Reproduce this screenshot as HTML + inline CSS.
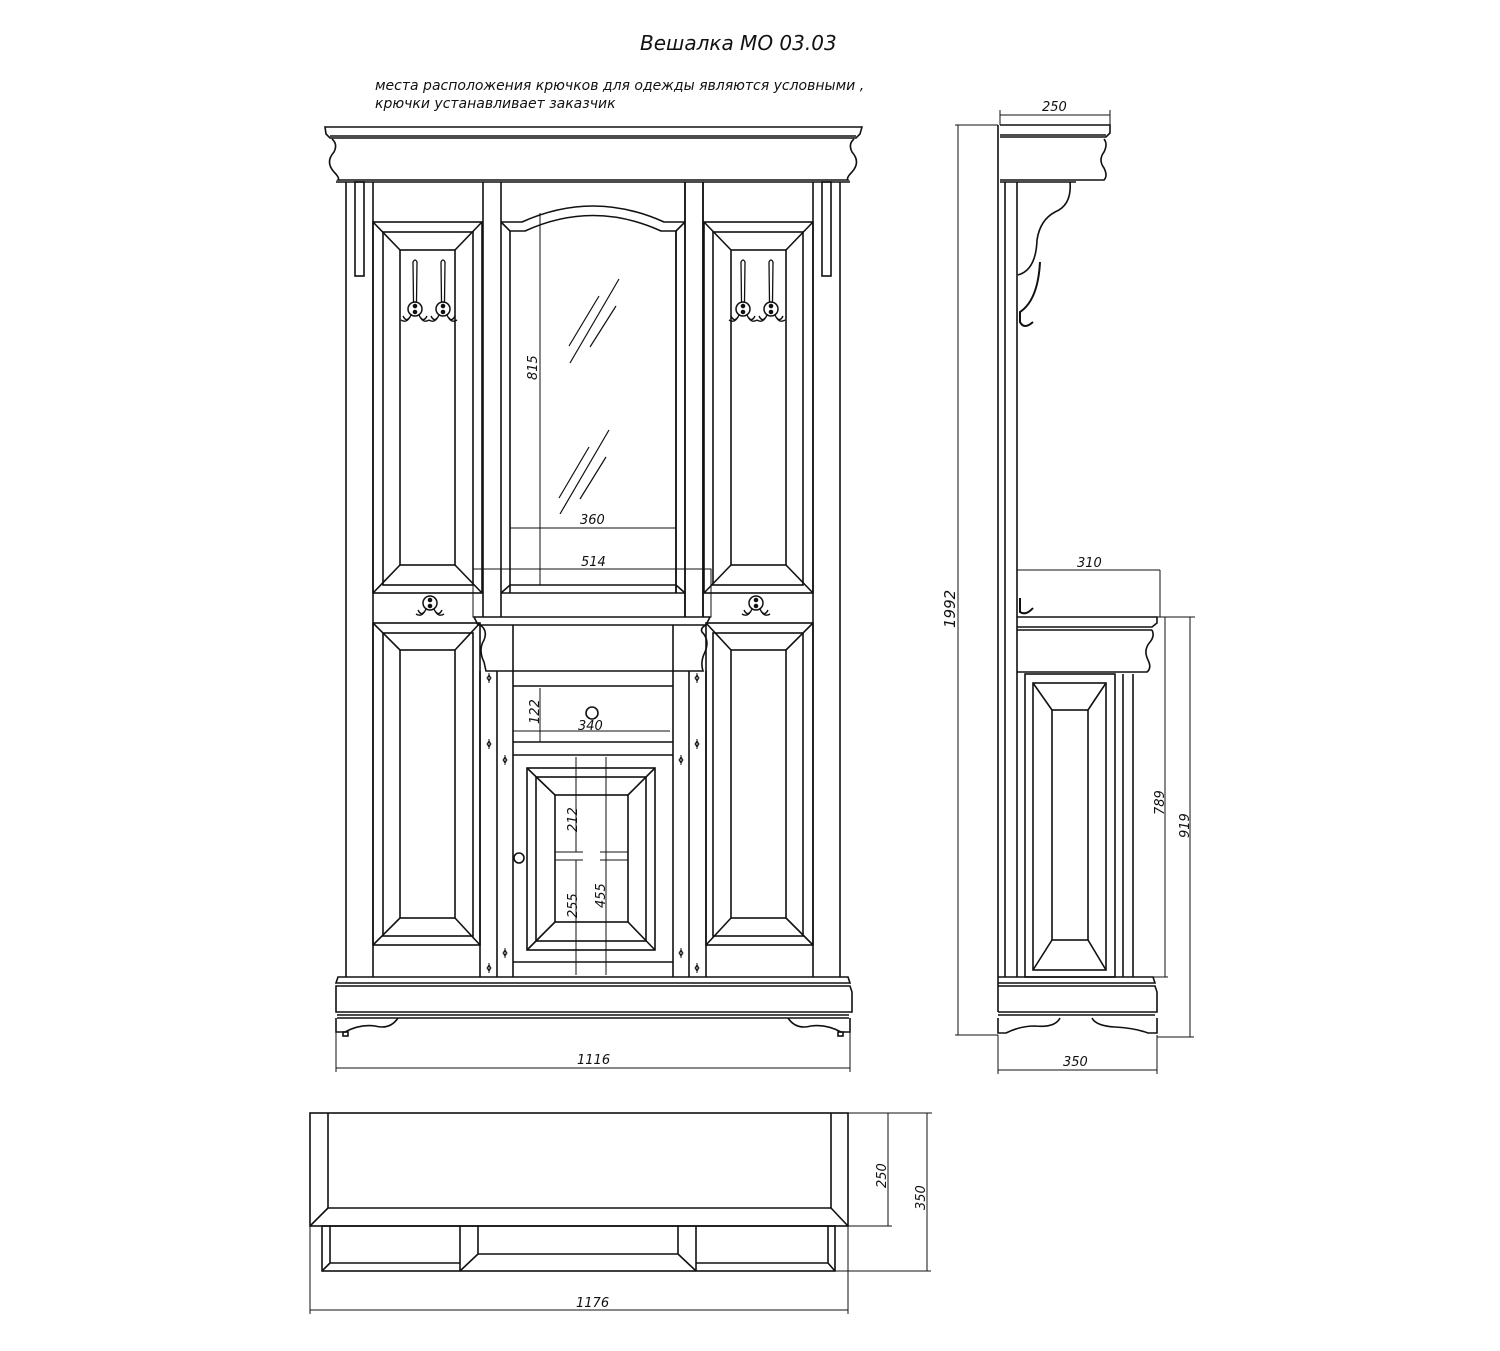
<!DOCTYPE html>
<html><head><meta charset="utf-8"><style>
html,body{margin:0;padding:0;background:#fff;}
svg{display:block;}
text{font-family:"DejaVu Sans","Liberation Sans",sans-serif;font-style:italic;fill:#111;}
</style></head><body>
<svg width="1500" height="1351" viewBox="0 0 1500 1351" xmlns="http://www.w3.org/2000/svg">
<defs>
<g id="hook">
  <path d="M-2,0 Q0,-4 2,0 L1.5,40 L-1.5,40 Z" fill="none" stroke="#111" stroke-width="1.3"/>
  <circle cx="0" cy="47" r="7" fill="none" stroke="#111" stroke-width="1.5"/>
  <circle cx="0" cy="44" r="1.5" fill="#111"/><circle cx="0" cy="50" r="1.5" fill="#111"/>
  <path d="M-4,53 Q-8,62 -14,58 M-12,54 Q-9,60 -6,56 M4,53 Q8,62 14,58 M12,54 Q9,60 6,56" fill="none" stroke="#111" stroke-width="1.4"/>
</g>
<g id="hook2">
  <circle cx="0" cy="0" r="7" fill="none" stroke="#111" stroke-width="1.5"/>
  <circle cx="0" cy="-3" r="1.5" fill="#111"/><circle cx="0" cy="3" r="1.5" fill="#111"/>
  <path d="M-4,6 Q-8,15 -14,11 M-12,7 Q-9,13 -6,9 M4,6 Q8,15 14,11 M12,7 Q9,13 6,9" fill="none" stroke="#111" stroke-width="1.4"/>
</g>
<g id="dia"><path d="M0,-5 L0,5 M-2,0 L0,-3 L2,0 L0,3 Z" fill="none" stroke="#111" stroke-width="1"/></g>
<g id="half">
  <!-- left post with pendant -->
  <line x1="346" y1="182" x2="346" y2="977"/>
  <line x1="373" y1="182" x2="373" y2="977"/>
  <rect x="355" y="182" width="9" height="94"/>
  <!-- left upper panel -->
  <rect x="373" y="222" width="109" height="371"/>
  <rect x="383" y="232" width="90" height="353"/>
  <rect x="400" y="250" width="55" height="315"/>
  <path d="M373,222 L400,250 M482,222 L455,250 M373,593 L400,565 M482,593 L455,565"/>
  <use href="#hook" x="415" y="262"/>
  <use href="#hook" x="443" y="262"/>
  <!-- band -->
  <use href="#hook2" x="430" y="603"/>
  <!-- left lower panel -->
  <rect x="373" y="623" width="107" height="322"/>
  <rect x="383" y="633" width="90" height="303"/>
  <rect x="400" y="650" width="55" height="268"/>
  <path d="M373,623 L400,650 M480,623 L455,650 M373,945 L400,918 M480,945 L455,918"/>
  <!-- post -->
  <line x1="483" y1="182" x2="483" y2="617"/>
  <line x1="501" y1="182" x2="501" y2="617"/>
  <line x1="480" y1="671" x2="480" y2="977"/>
  <line x1="497" y1="671" x2="497" y2="977"/>
  <line x1="513" y1="671" x2="513" y2="977"/>
  <use href="#dia" x="489" y="678"/><use href="#dia" x="489" y="744"/><use href="#dia" x="489" y="968"/>
  <use href="#dia" x="505" y="760"/><use href="#dia" x="505" y="953"/>
  <!-- mirror frame side -->
  <line x1="510" y1="231" x2="510" y2="593"/>
  <!-- foot -->
  <path d="M336,1018 L336,1032 L345,1032 Q360,1024 375,1026 Q390,1030 398,1018"/>
  <rect x="343" y="1032" width="5" height="4"/>
</g>
</defs>

<text x="640" y="50" font-size="20">Вешалка МО  03.03</text>
<text x="375" y="90" font-size="14">места расположения крючков для одежды являются условными ,</text>
<text x="375" y="108" font-size="14">крючки устанавливает заказчик</text>

<g fill="none" stroke="#111" stroke-width="1.6">
<!-- FRONT VIEW -->
<!-- cornice -->
<path d="M325,127 L862,127 L860,134 L856,138 L330,138 L326,134 Z"/>
<line x1="330" y1="136" x2="856" y2="136"/>
<path d="M332,139 Q338,144 334,152 Q325,162 334,172 Q340,178 338,180 L848,180 Q846,178 852,172 Q861,162 852,152 Q848,144 854,139"/>
<line x1="336" y1="182" x2="850" y2="182"/>
<use href="#half"/>
<use href="#half" transform="translate(1186,0) scale(-1,1)"/>
<!-- mirror -->
<path d="M501,222 L522,222 Q593,190 664,222 L685,222"/>
<path d="M510,231 L525,231 Q593,200 661,231 L676,231"/>
<path d="M501,222 L510,231 M685,222 L676,231"/>
<line x1="676" y1="231" x2="676" y2="593"/>
<line x1="510" y1="585" x2="676" y2="585"/>
<line x1="501" y1="593" x2="685" y2="593"/>
<path d="M501,593 L510,585 M685,593 L676,585"/>
<line x1="685" y1="182" x2="685" y2="617"/>
<line x1="703" y1="182" x2="703" y2="617"/>
<g stroke-width="1.2">
<path d="M569,346 L599,296 M570,363 L619,279 M590,347 L616,306"/>
<path d="M559,498 L589,447 M560,514 L609,430 M580,499 L606,457"/>
</g>
<!-- dims in mirror -->
<g stroke-width="1">
<line x1="540" y1="213" x2="540" y2="585"/>
<line x1="510" y1="528" x2="676" y2="528"/>
<rect x="473" y="569" width="238" height="48"/>
</g>
<text x="580" y="524" font-size="13" stroke="none">360</text>
<text x="581" y="566" font-size="13" stroke="none">514</text>
<text x="0" y="0" font-size="13" stroke="none" transform="translate(537,380) rotate(-90)">815</text>
<!-- drawer -->
<path d="M474,617 L710,617 L706,625 L478,625 Z"/>
<path d="M480,625 Q488,630 484,640 Q478,650 484,662 L486,671 L703,671 Q700,662 705,652 Q710,640 702,632 Q700,628 706,625"/>
<line x1="513" y1="625" x2="513" y2="671"/>
<line x1="673" y1="625" x2="673" y2="671"/>
<!-- shelf -->
<line x1="513" y1="686" x2="673" y2="686"/>
<line x1="513" y1="742" x2="673" y2="742"/>
<line x1="513" y1="755" x2="673" y2="755"/>
<circle cx="592" cy="713" r="6"/>
<g stroke-width="1">
<line x1="540" y1="688" x2="540" y2="742"/>
<line x1="513" y1="731" x2="670" y2="731"/>
</g>
<text x="0" y="0" font-size="13" stroke="none" transform="translate(539,724) rotate(-90)">122</text>
<text x="578" y="730" font-size="13" stroke="none">340</text>
<!-- door -->
<line x1="513" y1="962" x2="673" y2="962"/>
<rect x="527" y="768" width="128" height="182"/>
<rect x="536" y="777" width="110" height="164"/>
<rect x="555" y="795" width="73" height="127"/>
<path d="M527,768 L555,795 M655,768 L628,795 M527,950 L555,922 M655,950 L628,922"/>
<circle cx="519" cy="858" r="5"/>
<g stroke-width="1">
<line x1="576" y1="757" x2="576" y2="852"/><line x1="576" y1="860" x2="576" y2="975"/>
<line x1="606" y1="757" x2="606" y2="975"/>
<path d="M555,852 L583,852 M555,860 L583,860 M600,852 L628,852 M600,860 L628,860"/>
</g>
<text x="0" y="0" font-size="13" stroke="none" transform="translate(577,832) rotate(-90)">212</text>
<text x="0" y="0" font-size="13" stroke="none" transform="translate(577,918) rotate(-90)">255</text>
<text x="0" y="0" font-size="13" stroke="none" transform="translate(605,908) rotate(-90)">455</text>
<!-- base -->
<path d="M338,977 L848,977 L850,983 L336,983 Z"/>
<path d="M336,986 L850,986 L852,992 L852,1012 L336,1012 L336,992 Z"/>
<line x1="337" y1="1015" x2="849" y2="1015"/>
<line x1="337" y1="1018" x2="849" y2="1018"/>
<g stroke-width="1">
<line x1="336" y1="1018" x2="336" y2="1072"/><line x1="850" y1="1018" x2="850" y2="1072"/>
<line x1="336" y1="1068" x2="850" y2="1068"/>
</g>
<text x="577" y="1064" font-size="13" stroke="none">1116</text>

<!-- SIDE VIEW -->
<path d="M1000,125 L1110,125 L1110,133 L1106,137 L1000,137"/>
<line x1="1000" y1="135" x2="1106" y2="135"/>
<path d="M1104,139 Q1108,144 1104,152 Q1098,160 1104,168 Q1108,176 1104,180 L1000,180"/>
<line x1="1000" y1="182" x2="1076" y2="182"/>
<line x1="998" y1="125" x2="998" y2="1012"/>
<line x1="1005" y1="182" x2="1005" y2="977"/>
<line x1="1017" y1="182" x2="1017" y2="977"/>
<path d="M1070,182 Q1072,205 1055,212 Q1040,220 1037,240 Q1036,270 1018,275"/>
<path d="M1040,262 Q1038,300 1020,312 L1020,322 Q1024,330 1033,322" stroke-width="2"/>
<path d="M1020,598 L1020,612 Q1026,616 1033,608" stroke-width="2"/>
<line x1="1017" y1="570" x2="1160" y2="570" stroke-width="1"/>
<line x1="1160" y1="570" x2="1160" y2="617" stroke-width="1"/>
<path d="M1017,617 L1157,617 L1157,623 L1152,627 L1017,627"/>
<line x1="1017" y1="630" x2="1152" y2="630"/>
<path d="M1152,630 Q1155,636 1150,642 Q1143,650 1148,660 Q1152,668 1147,672 L1017,672"/>
<rect x="1025" y="674" width="90" height="303"/>
<rect x="1033" y="683" width="73" height="287"/>
<rect x="1052" y="710" width="36" height="230"/>
<path d="M1033,683 L1052,710 M1106,683 L1088,710 M1033,970 L1052,940 M1106,970 L1088,940"/>
<line x1="1123" y1="674" x2="1123" y2="977"/>
<line x1="1133" y1="674" x2="1133" y2="977"/>
<path d="M998,977 L1153,977 L1155,983 L998,983"/>
<path d="M998,986 L1155,986 L1157,992 L1157,1012 L998,1012"/>
<line x1="998" y1="1015" x2="1155" y2="1015"/>
<path d="M998,1018 L998,1033 L1006,1033 Q1020,1026 1035,1026 Q1055,1028 1060,1018"/>
<path d="M1092,1018 Q1096,1026 1115,1027 Q1135,1028 1148,1033 L1157,1033 L1157,1018"/>
<g stroke-width="1">
<line x1="1000" y1="115" x2="1110" y2="115"/><line x1="1110" y1="110" x2="1110" y2="125"/><line x1="1000" y1="110" x2="1000" y2="125"/>
<line x1="955" y1="125" x2="998" y2="125"/><line x1="958" y1="125" x2="958" y2="1035"/><line x1="955" y1="1035" x2="998" y2="1035"/>
<line x1="1157" y1="617" x2="1195" y2="617"/>
<line x1="1165" y1="617" x2="1165" y2="977"/><line x1="1135" y1="977" x2="1168" y2="977"/>
<line x1="1190" y1="617" x2="1190" y2="1037"/><line x1="1157" y1="1037" x2="1194" y2="1037"/>
<line x1="998" y1="1035" x2="998" y2="1074"/><line x1="1157" y1="1035" x2="1157" y2="1074"/>
<line x1="998" y1="1070" x2="1157" y2="1070"/>
</g>
<text x="1042" y="111" font-size="13" stroke="none">250</text>
<text x="1077" y="567" font-size="13" stroke="none">310</text>
<text x="1063" y="1066" font-size="13" stroke="none">350</text>
<text x="0" y="0" font-size="15" stroke="none" transform="translate(955,628) rotate(-90)">1992</text>
<text x="0" y="0" font-size="13" stroke="none" transform="translate(1164,815) rotate(-90)">789</text>
<text x="0" y="0" font-size="13" stroke="none" transform="translate(1189,838) rotate(-90)">919</text>

<!-- TOP VIEW -->
<rect x="310" y="1113" width="538" height="113"/>
<path d="M328,1113 L328,1208 L831,1208 L831,1113"/>
<path d="M310,1226 L328,1208 M848,1226 L831,1208"/>
<rect x="322" y="1226" width="513" height="45"/>
<line x1="460" y1="1226" x2="460" y2="1271"/>
<line x1="696" y1="1226" x2="696" y2="1271"/>
<path d="M330,1226 L330,1263 L460,1263 M322,1271 L330,1263"/>
<path d="M478,1226 L478,1254 L678,1254 L678,1226 M460,1271 L478,1254 M696,1271 L678,1254"/>
<path d="M828,1226 L828,1263 L696,1263 M835,1271 L828,1263"/>
<g stroke-width="1">
<line x1="848" y1="1113" x2="932" y2="1113"/>
<line x1="888" y1="1113" x2="888" y2="1226"/><line x1="848" y1="1226" x2="892" y2="1226"/>
<line x1="927" y1="1113" x2="927" y2="1271"/><line x1="835" y1="1271" x2="931" y2="1271"/>
<line x1="310" y1="1226" x2="310" y2="1314"/><line x1="848" y1="1226" x2="848" y2="1314"/>
<line x1="310" y1="1310" x2="848" y2="1310"/>
</g>
<text x="0" y="0" font-size="13" stroke="none" transform="translate(886,1188) rotate(-90)">250</text>
<text x="0" y="0" font-size="13" stroke="none" transform="translate(925,1210) rotate(-90)">350</text>
<text x="576" y="1307" font-size="13" stroke="none">1176</text>
</g>
</svg>
</body></html>
